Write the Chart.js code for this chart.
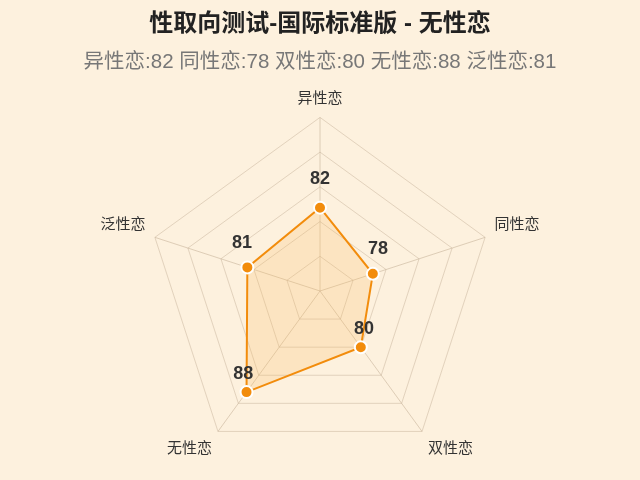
<!DOCTYPE html>
<html>
<head>
  <meta charset="UTF-8">
  <script src="https://cdn.jsdelivr.net/npm/chart.js"></script>
  <style>
    html, body { margin: 0; padding: 0; background: #fdf1de; }
    .wrap { width: 640px; height: 480px; }
  </style>
</head>
<body>
  <div class="wrap"><canvas id="myChart"></canvas></div>
  <script>
    var categories = ['异性恋', '同性恋', '双性恋', '无性恋', '泛性恋'];
    var scores = [82, 78, 80, 88, 81];
    var chartTitle = '性取向测试-国际标准版 - 无性恋';

    // subtitle is built from the same numbers
    var subtitleText = categories.map(function (c, i) { return c + ':' + scores[i]; }).join(' ');

    var fontFam = "'Liberation Sans', 'Noto Sans CJK SC', sans-serif";

    // draw the value above each point, nudged a bit outward from the centre
    var valueLabels = {
      id: 'valueLabels',
      afterDatasetsDraw: function (chart) {
        var ctx = chart.ctx;
        var meta = chart.getDatasetMeta(0);
        var r = chart.scales.r;
        ctx.save();
        ctx.font = 'bold 18px ' + fontFam;
        ctx.fillStyle = '#333333';
        ctx.textAlign = 'center';
        ctx.textBaseline = 'alphabetic';
        meta.data.forEach(function (pt, i) {
          var dx = pt.x - r.xCenter, dy = pt.y - r.yCenter;
          var d = Math.sqrt(dx * dx + dy * dy) || 1;
          var x = pt.x + 5.5 * dx / d;
          var y = pt.y + 5.5 * dy / d - 18;
          ctx.fillText(String(chart.data.datasets[0].data[i]), x, y);
        });
        ctx.restore();
      }
    };

    var ctx = document.getElementById('myChart').getContext('2d');
    var chart = new Chart(ctx, {
      type: 'radar',
      data: {
        labels: categories,
        datasets: [{
          label: '得分',
          data: scores,
          borderColor: '#f28c0c',
          backgroundColor: 'rgba(250, 178, 80, 0.2)',
          borderWidth: 2,
          pointBackgroundColor: '#f28c0c',
          pointBorderColor: '#ffffff',
          pointBorderWidth: 2,
          pointRadius: 6,
          fill: true
        }]
      },
      options: {
        responsive: true,
        maintainAspectRatio: false,
        animation: false,
        layout: { padding: { top: 0, bottom: 0 } },
        plugins: {
          legend: { display: false },
          tooltip: { enabled: false },
          title: {
            display: true,
            text: chartTitle,
            color: '#222222',
            font: { size: 24, weight: 'bold', family: fontFam },
            padding: { top: 10, bottom: 11 }
          },
          subtitle: {
            display: true,
            text: subtitleText,
            color: '#777777',
            font: { size: 20.5, family: fontFam },
            padding: { bottom: 1 }
          }
        },
        scales: {
          r: {
            min: 70,
            max: 95,
            ticks: { stepSize: 5, display: false },
            grid: { color: 'rgba(200, 180, 155, 0.5)' },
            angleLines: { color: 'rgba(200, 180, 155, 0.6)' },
            pointLabels: {
              color: '#333333',
              font: { size: 15, family: fontFam },
              padding: 10
            }
          }
        }
      },
      plugins: [valueLabels]
    });
  </script>
</body>
</html>
